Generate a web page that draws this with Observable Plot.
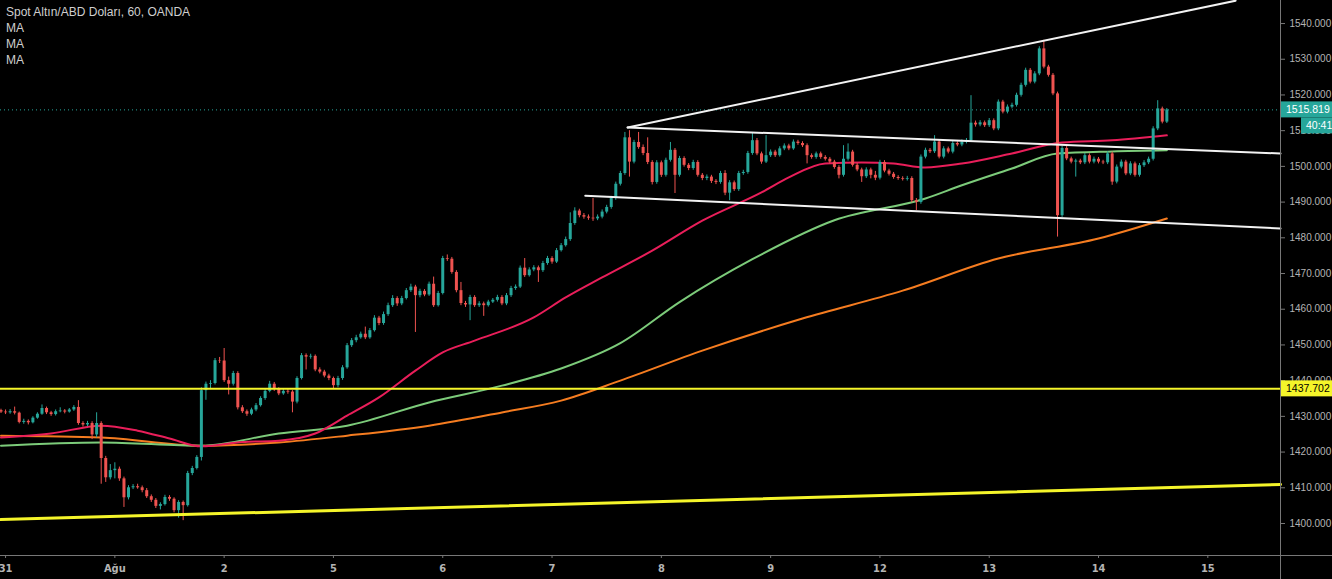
<!DOCTYPE html>
<html><head><meta charset="utf-8">
<script src="https://cdn.jsdelivr.net/npm/d3@7"></script>
<script src="https://cdn.jsdelivr.net/npm/@observablehq/plot@0.6"></script>
<style>
html,body{margin:0;padding:0;background:#000;}
#wrap{position:relative;width:1332px;height:579px;overflow:hidden;background:#000;}
#legend{position:absolute;left:6px;top:4px;font-family:"Liberation Sans",Arial,sans-serif;font-size:12px;color:#cfcfcf;line-height:16px;}
</style></head><body>
<div id="wrap"><div id="chart"></div>
<div id="legend"><div>Spot Altın/ABD Doları, 60, OANDA</div><div>MA</div><div>MA</div><div>MA</div></div></div>
<script>
// ---- data (hourly candles, index 0 = first visible hour) ----
const firstOpen = 1431.6;
const closeP = [
1431.2,1431.0,1431.3,1430.9,1428.3,1428.6,1428.2,1429.5,1430.6,1432.2,
1431.0,1430.5,1431.3,1431.5,1431.2,1431.8,1432.5,1428.0,1427.6,1428.0,
1424.8,1428.0,1418.2,1412.8,1414.8,1415.2,1412.5,1407.2,1410.0,1410.3,
1410.0,1409.2,1407.5,1406.5,1404.8,1405.3,1407.3,1406.8,1403.6,1405.9,
1405.0,1414.0,1415.4,1418.5,1437.2,1439.0,1439.2,1445.6,1445.5,1440.0,
1439.0,1442.0,1432.4,1431.3,1430.6,1431.8,1433.0,1435.0,1437.0,1439.0,
1437.6,1436.3,1437.0,1436.8,1434.0,1440.6,1447.0,1446.6,1446.8,1443.0,
1442.4,1441.3,1440.6,1438.6,1440.6,1443.6,1449.8,1451.2,1452.0,1453.0,
1452.0,1454.0,1457.5,1456.0,1458.5,1461.0,1463.0,1461.5,1463.0,1465.2,
1466.2,1463.8,1465.0,1464.0,1467.0,1461.0,1464.4,1474.2,1474.0,1470.3,
1465.2,1461.6,1461.2,1463.3,1461.0,1461.5,1461.0,1462.0,1462.5,1463.3,
1461.5,1463.8,1465.8,1466.2,1471.5,1469.4,1471.0,1471.6,1470.8,1472.8,
1474.2,1473.2,1476.4,1477.8,1479.5,1484.0,1487.5,1486.2,1485.8,1485.5,
1485.3,1485.8,1487.2,1488.5,1491.0,1495.0,1498.0,1508.0,1501.2,1506.7,
1505.3,1503.6,1501.1,1495.5,1501.0,1497.5,1501.7,1504.5,1497.5,1502.2,
1500.3,1499.4,1501.1,1497.5,1496.6,1497.0,1495.8,1495.5,1498.0,1492.5,
1495.4,1493.5,1498.0,1498.3,1503.6,1507.2,1503.5,1501.2,1503.0,1504.0,
1503.0,1504.9,1505.7,1504.9,1506.8,1506.4,1505.8,1503.0,1502.5,1503.5,
1502.5,1502.0,1501.2,1499.7,1497.5,1502.0,1504.0,1500.3,1499.0,1497.1,
1499.0,1497.5,1496.7,1501.1,1498.7,1497.8,1496.9,1496.6,1496.4,1496.6,
1490.4,1489.9,1502.6,1504.5,1504.1,1506.8,1502.6,1504.9,1504.0,1506.4,
1506.0,1506.8,1507.2,1512.1,1511.6,1512.2,1511.4,1512.8,1510.5,1518.0,
1515.2,1516.6,1517.1,1519.9,1522.7,1526.9,1523.6,1525.9,1532.9,1527.8,
1525.5,1520.3,1486.2,1505.0,1502.1,1501.2,1501.5,1501.0,1503.0,1501.2,
1502.0,1501.2,1501.0,1503.5,1495.6,1499.8,1501.2,1497.9,1500.7,1497.5,
1500.2,1501.0,1502.0,1510.5,1516.1,1512.4,1515.819
];
const highP = [
1432.0,1431.8,1431.9,1432.6,1431.2,1429.2,1429.0,1429.9,1431.0,1433.2,
1432.6,1431.4,1431.8,1432.4,1431.9,1432.2,1433.0,1434.4,1428.5,1428.6,
1428.5,1431.0,1428.5,1418.8,1416.5,1417.0,1415.8,1413.0,1410.6,1410.9,
1411.0,1410.5,1409.8,1408.0,1407.0,1405.8,1407.9,1407.8,1407.2,1406.4,
1406.3,1414.6,1416.0,1419.0,1438.0,1439.6,1440.0,1446.2,1446.5,1449.0,
1441.0,1442.6,1442.5,1433.0,1431.8,1432.3,1433.6,1435.5,1437.6,1439.8,
1439.5,1438.0,1437.6,1437.5,1437.2,1441.1,1447.6,1447.5,1447.4,1447.2,
1443.6,1442.9,1441.8,1441.0,1441.2,1444.2,1450.4,1451.8,1452.7,1453.6,
1455.0,1454.6,1458.2,1458.0,1459.2,1461.7,1463.8,1463.5,1463.6,1465.8,
1467.0,1466.7,1465.6,1465.5,1467.6,1469.0,1465.0,1474.8,1475.2,1474.5,
1470.8,1467.5,1462.2,1463.9,1463.8,1462.1,1462.0,1462.5,1463.0,1463.9,
1463.8,1464.4,1466.4,1466.8,1472.1,1474.2,1471.6,1472.2,1472.1,1473.4,
1474.8,1474.7,1477.0,1478.4,1480.2,1487.0,1488.4,1488.0,1486.8,1486.4,
1491.0,1486.4,1487.8,1489.1,1491.6,1495.6,1498.6,1509.5,1510.0,1507.3,
1509.5,1506.0,1508.0,1501.6,1501.6,1501.5,1502.3,1506.7,1505.0,1502.8,
1502.7,1500.8,1501.7,1501.6,1498.0,1497.6,1497.5,1496.3,1498.6,1498.8,
1496.0,1495.9,1498.6,1498.9,1504.2,1509.5,1507.8,1504.0,1508.6,1504.6,
1504.5,1505.5,1506.3,1506.2,1507.4,1507.3,1506.9,1506.3,1503.5,1504.0,
1504.0,1503.0,1502.5,1501.7,1500.2,1505.8,1506.3,1504.5,1500.8,1499.5,
1499.6,1499.5,1498.6,1501.7,1501.6,1499.2,1498.3,1497.4,1497.1,1497.2,
1497.1,1491.0,1503.2,1505.1,1505.0,1508.6,1507.3,1505.5,1505.4,1507.0,
1506.9,1507.4,1507.8,1519.8,1512.7,1512.8,1512.7,1513.4,1513.3,1518.6,
1518.5,1517.2,1517.7,1520.5,1523.3,1527.5,1527.4,1526.5,1533.5,1535.3,
1528.3,1526.0,1520.8,1505.6,1505.6,1502.6,1502.0,1502.0,1503.6,1503.5,
1502.6,1502.5,1501.7,1504.1,1504.0,1500.4,1501.8,1501.7,1501.3,1501.2,
1500.8,1501.6,1502.6,1511.1,1518.4,1516.6,1516.2
];
const lowP = [
1430.8,1430.5,1430.6,1430.4,1427.9,1427.8,1427.6,1427.9,1429.2,1430.3,
1430.5,1430.0,1430.1,1431.0,1430.7,1430.9,1431.4,1427.5,1427.0,1427.1,
1423.5,1424.0,1411.0,1411.5,1412.2,1412.5,1411.8,1404.5,1406.6,1409.5,
1409.6,1408.6,1407.0,1405.9,1404.2,1403.8,1404.9,1406.2,1403.0,1401.5,
1400.8,1404.6,1413.4,1415.0,1417.5,1434.5,1437.5,1438.8,1444.8,1439.5,
1436.0,1438.5,1431.8,1430.8,1430.0,1430.2,1431.3,1432.6,1434.5,1436.6,
1437.0,1435.8,1435.9,1436.2,1431.0,1433.5,1440.2,1443.0,1446.0,1442.5,
1441.9,1440.8,1440.0,1437.5,1438.0,1440.1,1443.2,1449.3,1450.6,1451.6,
1451.5,1451.6,1453.6,1455.4,1455.5,1458.0,1460.5,1460.8,1461.0,1462.6,
1464.7,1453.5,1463.2,1463.5,1463.6,1460.5,1460.6,1464.0,1473.4,1469.8,
1464.6,1461.0,1460.5,1456.8,1460.5,1460.5,1458.0,1460.6,1461.6,1462.0,
1461.0,1461.0,1463.3,1465.3,1465.8,1468.9,1469.0,1470.5,1467.5,1470.3,
1472.3,1472.6,1472.8,1476.0,1477.4,1479.0,1483.5,1485.6,1485.2,1484.9,
1484.6,1484.8,1485.3,1486.7,1488.0,1490.5,1494.5,1497.5,1497.0,1500.7,
1504.8,1503.0,1500.5,1494.8,1495.0,1496.9,1497.0,1501.2,1492.4,1497.0,
1499.8,1498.8,1498.9,1497.0,1496.0,1496.0,1495.2,1494.9,1495.0,1491.8,
1490.4,1493.0,1493.0,1497.5,1497.8,1503.1,1503.0,1500.6,1500.8,1502.5,
1502.5,1502.6,1504.4,1504.4,1504.5,1505.9,1505.3,1500.7,1502.0,1502.0,
1502.0,1501.5,1500.7,1499.2,1496.5,1497.0,1501.5,1499.8,1498.5,1495.5,
1496.6,1496.5,1496.0,1496.2,1498.2,1497.3,1496.4,1496.1,1495.9,1495.9,
1489.8,1487.6,1489.4,1502.1,1503.6,1503.6,1502.1,1502.1,1503.5,1503.5,
1505.5,1505.5,1506.3,1506.7,1511.0,1511.1,1510.9,1510.9,1510.0,1510.0,
1514.7,1514.7,1516.1,1516.6,1519.4,1522.2,1523.1,1523.1,1525.4,1527.3,
1525.0,1519.8,1480.2,1485.7,1501.6,1500.7,1497.0,1500.5,1500.5,1500.7,
1500.7,1500.7,1500.5,1500.5,1494.7,1495.1,1499.3,1497.4,1497.4,1497.0,
1497.0,1499.7,1500.5,1501.5,1510.0,1511.9,1512.0
];
// moving averages [candle index, value]
const maFast = [[0,1424.1],[11,1425.2],[22,1427.4],[30,1426.0],[37,1423.8],[44,1421.6],[53,1422.8],[61,1423.2],[69,1425.2],[76,1430.2],[83,1435.3],[91,1442.8],[97,1447.9],[104,1451.2],[117,1457.7],[124,1463.3],[132,1468.9],[143,1476.4],[154,1484.8],[167,1492.7],[173,1496.9],[181,1500.8],[189,1501.1],[196,1500.8],[203,1499.7],[211,1500.8],[222,1503.6],[233,1506.7],[244,1507.3],[256,1508.7]];
const maMid = [[0,1421.8],[22,1422.7],[44,1421.8],[61,1425.2],[76,1427.4],[94,1433.9],[110,1438.6],[123,1443.4],[136,1450.5],[149,1462.0],[165,1474.0],[183,1484.9],[203,1491.0],[211,1494.7],[222,1499.4],[232,1503.6],[244,1504.2],[256,1504.5]];
const maSlow = [[0,1424.6],[22,1424.1],[44,1421.8],[61,1422.7],[76,1424.6],[94,1427.4],[110,1431.1],[123,1434.4],[136,1440.0],[154,1448.4],[176,1457.4],[198,1465.2],[219,1474.2],[241,1479.8],[256,1485.4]];
// drawn trend lines [candle index, price]
const upperTrend = [[137.6,1510.9],[271.1,1546.4]];
const midTrend = [[137.6,1510.9],[280.96,1503.6]];
const lowTrend = [[128.3,1491.8],[280.96,1482.6]];
const supportTrend = [[-0.11,1401.1],[280.96,1410.9]];
const levelPrice = 1437.702;
const lastPrice = 1515.819;
const timerText = "40:41";
// axis ticks
const dayTickIdx = [1,25,49,73,97,121,145,169,193,217,241,265];
const dayLabels = ["31","Ağu","2","5","6","7","8","9","12","13","14","15"];
const priceTicks = [1400,1410,1420,1430,1440,1450,1460,1470,1480,1490,1500,1510,1520,1530,1540];

const UP = "#26a69a", DOWN = "#ef5350";
const candles = closeP.map((c, i) => {
  const o = i ? closeP[i-1] : firstOpen;
  return {i, o, c, h: highP[i], l: lowP[i], col: c >= o ? UP : DOWN};
});
const labelMap = new Map(dayTickIdx.map((d, k) => [d, dayLabels[k]]));
const XD = [-0.11, 280.96];

const chart = Plot.plot({
  width: 1332, height: 579,
  marginLeft: 0, marginRight: 52, marginTop: 0, marginBottom: 24,
  style: {background: "#000", color: "#b4b4b4", fontFamily: "'Liberation Sans', Arial, sans-serif", fontSize: "10px"},
  x: {domain: XD, axis: null, label: null},
  y: {domain: [1391.04, 1546.45], axis: null, label: null},
  marks: [
    Plot.axisY(priceTicks, {anchor: "right", label: null, tickFormat: d => d.toFixed(3), tickSize: 4, tickPadding: 5, stroke: "#777", fill: "#b4b4b4", fontSize: 10}),
    Plot.axisX(dayTickIdx, {anchor: "bottom", label: null, tickFormat: d => labelMap.get(d), tickSize: 3, tickPadding: 6, stroke: "#777", fill: "#b4b4b4", fontSize: 11, fontFamily: "'Liberation Sans Narrow','DejaVu Sans Condensed',sans-serif", fontWeight: "bold"}),
    Plot.ruleY([lastPrice], {stroke: UP, strokeWidth: 1, strokeDasharray: "1,3"}),
    Plot.line(maSlow, {x: d => d[0], y: d => d[1], stroke: "#f57c20", strokeWidth: 2, curve: "monotone-x"}),
    Plot.line(maMid, {x: d => d[0], y: d => d[1], stroke: "#7ccb7a", strokeWidth: 2, curve: "monotone-x"}),
    Plot.line(maFast, {x: d => d[0], y: d => d[1], stroke: "#e91e5a", strokeWidth: 2, curve: "monotone-x"}),
    Plot.ruleX(candles, {x: "i", y1: "l", y2: "h", stroke: "col", strokeWidth: 1}),
    Plot.ruleX(candles, {x: "i", y1: "o", y2: "c", stroke: "col", strokeWidth: 3}),
    Plot.line(upperTrend, {x: d => d[0], y: d => d[1], stroke: "#f2f2f2", strokeWidth: 2}),
    Plot.line(midTrend, {x: d => d[0], y: d => d[1], stroke: "#f2f2f2", strokeWidth: 2}),
    Plot.line(lowTrend, {x: d => d[0], y: d => d[1], stroke: "#f2f2f2", strokeWidth: 2}),
    Plot.ruleY([levelPrice], {stroke: "#f5f52a", strokeWidth: 2}),
    Plot.line(supportTrend, {x: d => d[0], y: d => d[1], stroke: "#f5f52a", strokeWidth: 3})
  ]
});
document.getElementById("chart").appendChild(chart);

// axis chrome and price labels, positioned through Plot's own y scale
const ys = chart.scale("y");
const svg = d3.select(chart);
svg.append("line").attr("x1", 1280.5).attr("x2", 1280.5).attr("y1", 0).attr("y2", 579).attr("stroke", "#777");
svg.append("line").attr("x1", 0).attr("x2", 1332).attr("y1", 555.5).attr("y2", 555.5).attr("stroke", "#777");
function tag(price, text, x0, bg, fg, dy) {
  const yc = ys.apply(price) + (dy || 0);
  svg.append("rect").attr("x", x0).attr("y", yc - 8).attr("width", 1332 - x0).attr("height", 16).attr("fill", bg);
  svg.append("text").attr("x", x0 + 5).attr("y", yc).attr("dy", "0.35em").attr("fill", fg)
    .attr("text-anchor", "start")
    .attr("font-family", "'Liberation Sans', Arial, sans-serif").attr("font-size", 10.5).text(text);
}
tag(lastPrice, lastPrice.toFixed(3), 1281, UP, "#ffffff", 0);
tag(lastPrice, timerText, 1301, UP, "#ffffff", 16);
tag(levelPrice, levelPrice.toFixed(3), 1281, "#f5f52a", "#000000", 0);
</script>
</body></html>
